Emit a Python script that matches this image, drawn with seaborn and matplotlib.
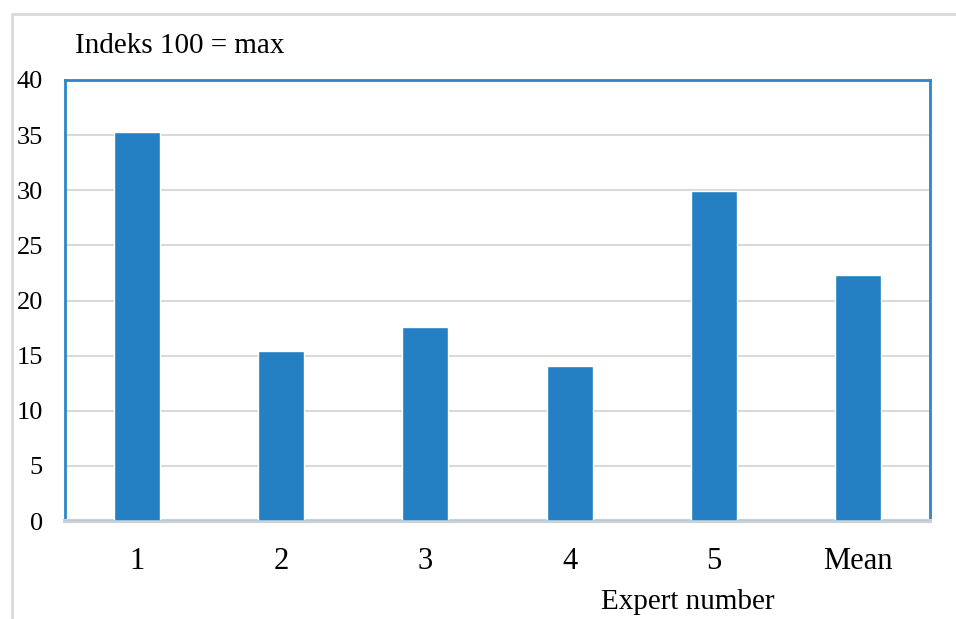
import matplotlib
matplotlib.use("Agg")
import matplotlib.pyplot as plt
from matplotlib.lines import Line2D
import seaborn as sns
import pandas as pd

# data
experts = ["1", "2", "3", "4", "5", "Mean"]
scores = [35.3, 15.4, 17.6, 14.1, 29.9, 22.3]

df = pd.DataFrame({"expert": experts, "score": scores})

sns.set_style("white")
plt.rcParams["font.family"] = ["Liberation Serif", "DejaVu Serif"]
plt.rcParams["text.color"] = "black"
plt.rcParams["xtick.color"] = "black"
plt.rcParams["ytick.color"] = "black"

fig = plt.figure(figsize=(9.56, 6.19), dpi=100)
ax = fig.add_axes([65 / 956, 98 / 619, 865 / 956, 441 / 619])

sns.barplot(data=df, x="expert", y="score", color="#2580C3",
            width=0.32, saturation=1, ax=ax, zorder=3)

ax.set_ylim(0, 40)
ax.set_yticks(range(0, 41, 5))
ax.set_xlim(-0.5, len(experts) - 0.5)
ax.grid(axis="y", color="#D9D9D9", linewidth=1.5, zorder=0)
ax.set_axisbelow(True)

# plot area border
for side in ["left", "top", "right"]:
    ax.spines[side].set_color("#2E86C8")
    ax.spines[side].set_linewidth(2)
ax.spines["bottom"].set_color("#D0D0D0")
ax.spines["bottom"].set_linewidth(3)
ax.axhline(0, color="#A9CCE8", linewidth=1.2, zorder=4)

ax.tick_params(axis="y", length=0, pad=16, labelsize=19, labelcolor="black")
ax.tick_params(axis="x", length=0, pad=19, labelsize=22, labelcolor="black")
ax.set_xlabel("")
ax.set_ylabel("")

fig.text(75 / 956, 1 - 46 / 619, "Indeks 100 = max", fontsize=21,
         ha="left", va="center", color="black")
fig.text(688 / 956, 1 - 602 / 619, "Expert number", fontsize=21,
         ha="center", va="center", color="black")

# outer chart frame (left and top edges visible)
fig.add_artist(Line2D([12 / 956, 12 / 956], [0, 1 - 14 / 619],
                      transform=fig.transFigure, color="#D9D9D9", linewidth=2))
fig.add_artist(Line2D([12 / 956, 1], [1 - 14 / 619, 1 - 14 / 619],
                      transform=fig.transFigure, color="#D9D9D9", linewidth=2))

fig.savefig("out.png", dpi=100)
